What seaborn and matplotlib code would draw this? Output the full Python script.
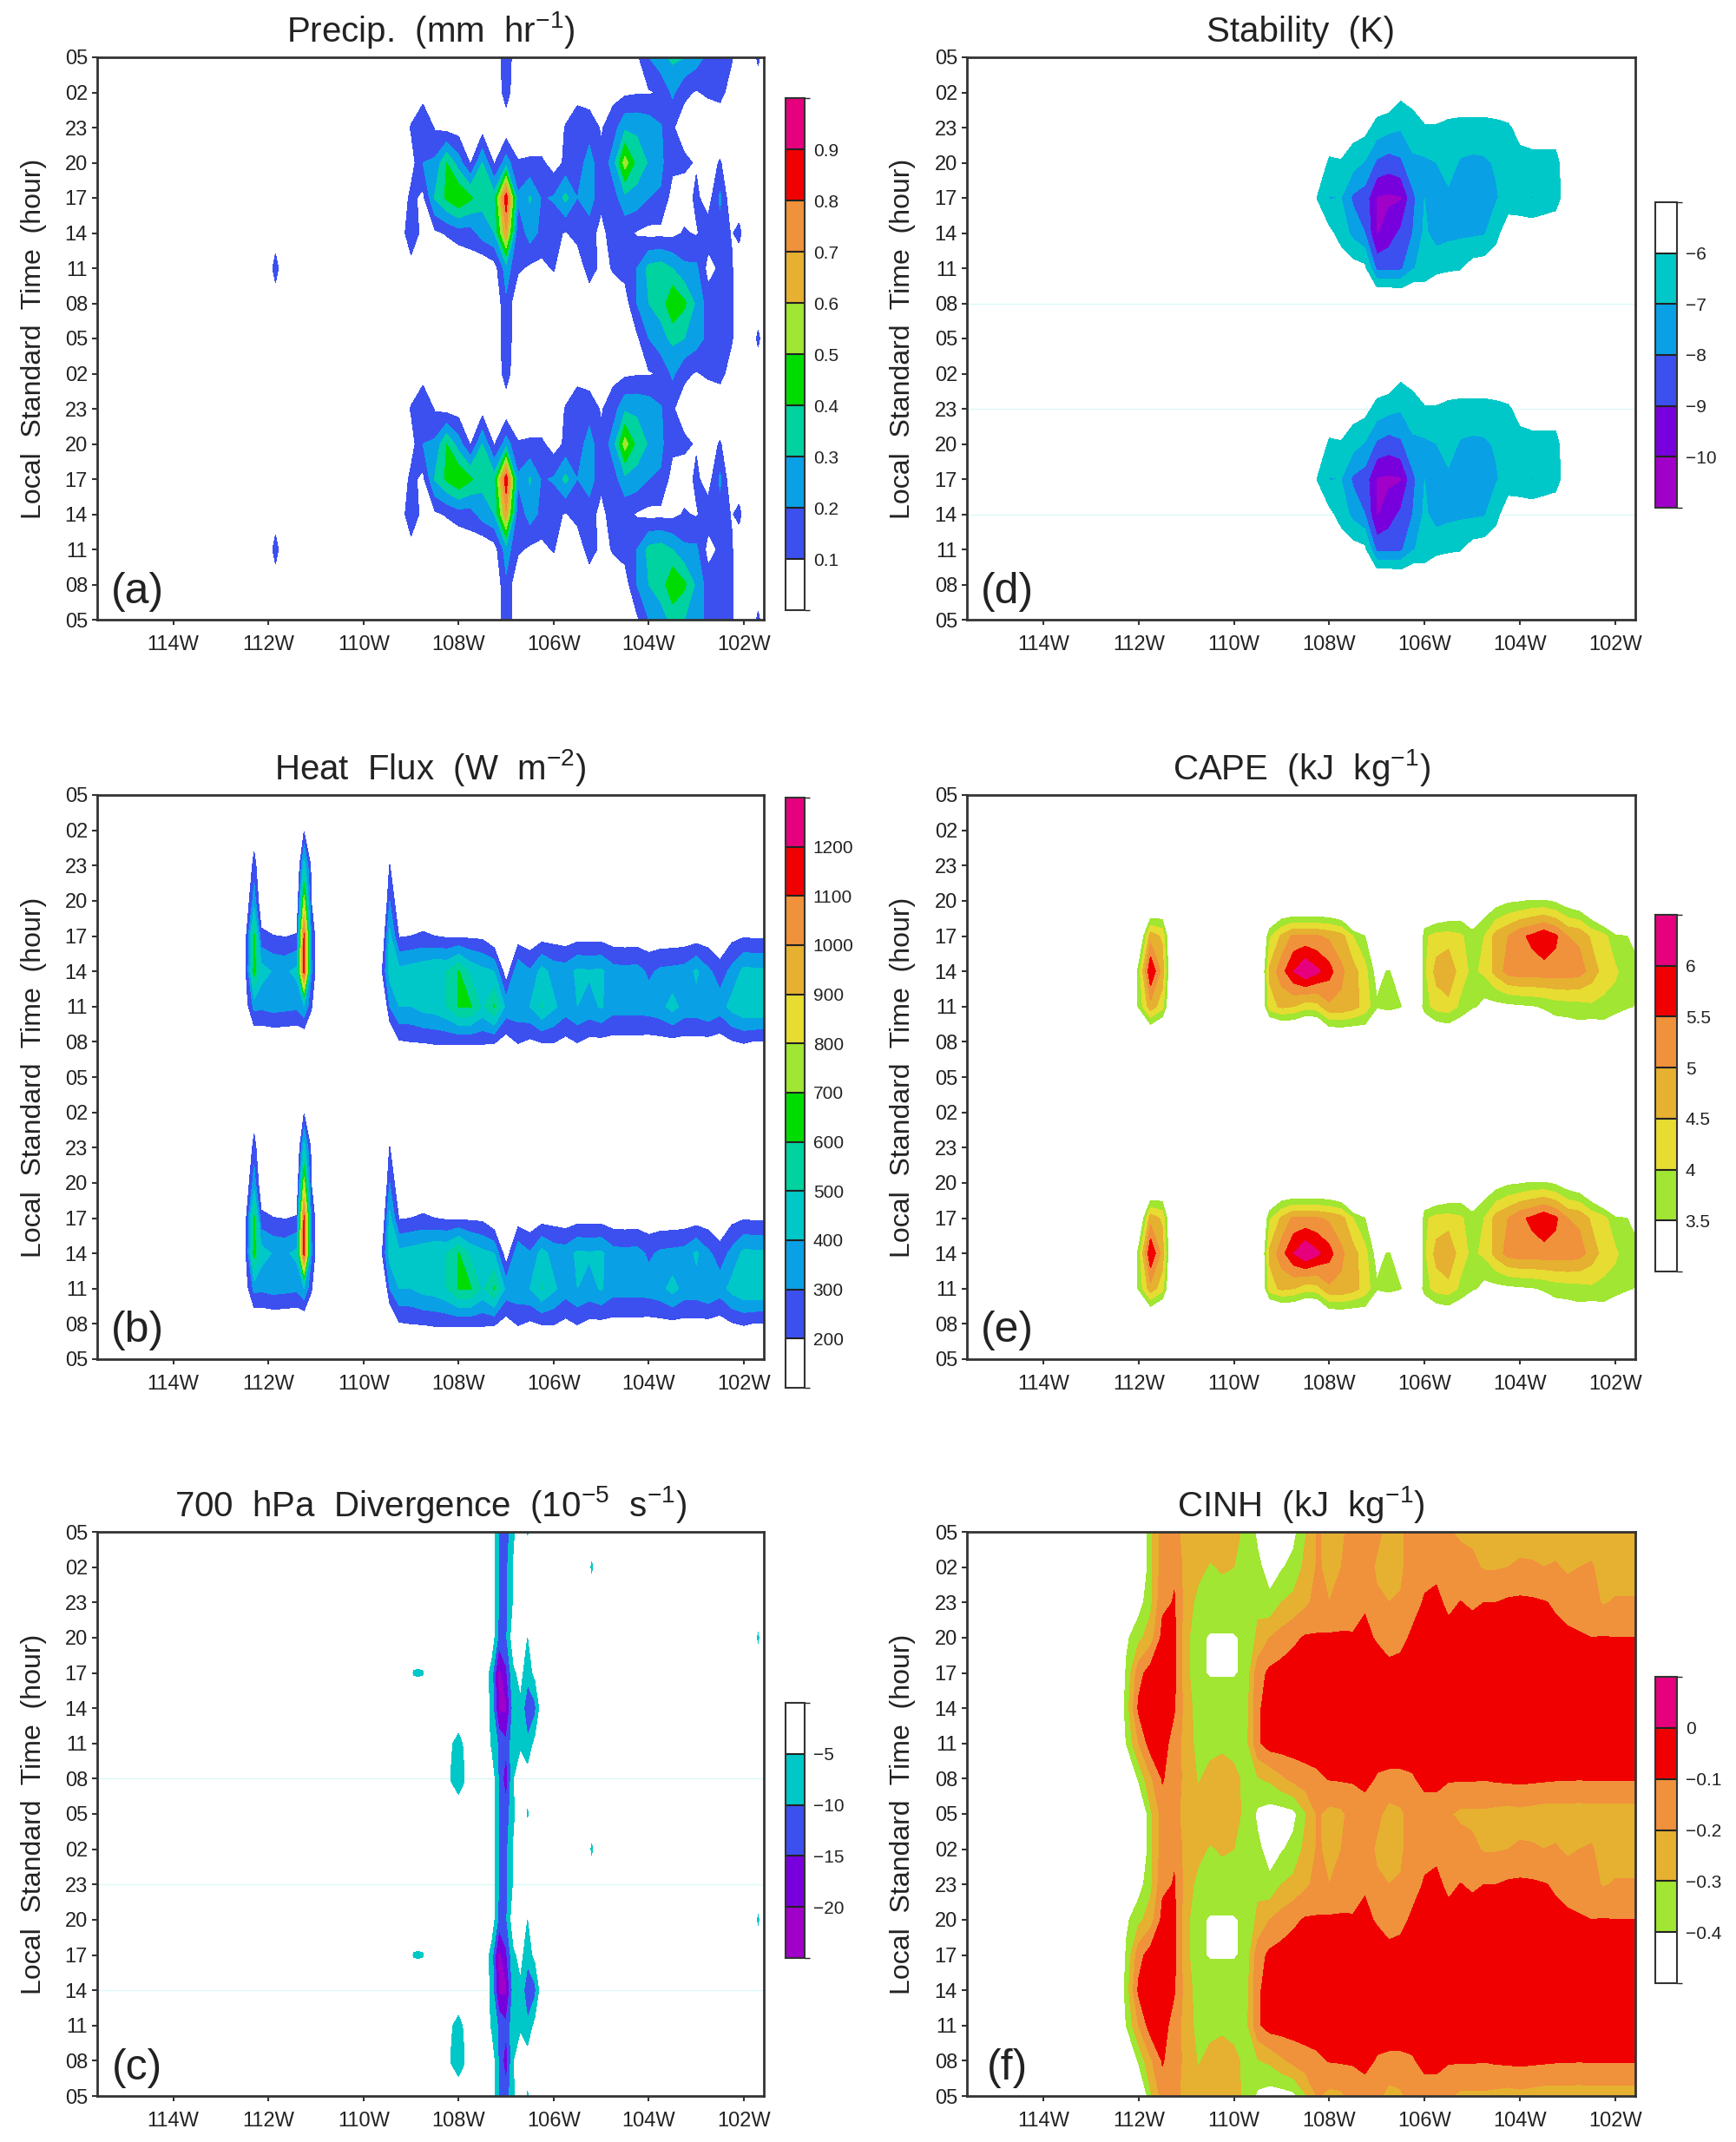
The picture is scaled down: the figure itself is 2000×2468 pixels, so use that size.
"""
Six panels of longitude-time contours, two repeated days (05 LST to 05 LST)
"""

import numpy as np
import matplotlib
matplotlib.use('Agg')
import matplotlib.pyplot as plt
from matplotlib.cm import ScalarMappable
from matplotlib.colors import BoundaryNorm, ListedColormap
import seaborn as sns

sns.set_theme(style='ticks')
plt.rcParams['font.family'] = ['Liberation Sans', 'DejaVu Sans']
plt.rcParams['mathtext.default'] = 'regular'

FIG_W, FIG_H = 2000, 2468

# x axis and y axis
LON_TICKS = [-114, -112, -110, -108, -106, -104, -102]
LON_LABELS = ['114W', '112W', '110W', '108W', '106W', '104W', '102W']
HOUR_TICKS = list(range(0, 49, 3))
HOUR_LABELS = ['05', '08', '11', '14', '17', '20', '23', '02',
               '05', '08', '11', '14', '17', '20', '23', '02', '05']

BLUE = '#3c50f0'
AZURE = '#0aa0e6'
TEAL = '#00c8c8'
SEA = '#00d2a0'
GREEN = '#00dc00'
LIME = '#a0e632'
YELLOW = '#e6dc32'
GOLD = '#e6b030'
ORANGE = '#f0913c'
RED = '#f00000'
MAGENTA = '#e6007d'
PURPLE = '#7800dc'
VIOLET = '#a000c8'

# every row below: one longitude, values at 05 08 11 14 17 20 23 02 LST
PRECIP_LON = [-112.0, -111.85, -111.7, -109.25, -109.0, -108.75, -108.5, -108.25, -108.0,
              -107.75, -107.5, -107.25, -107.0, -106.75, -106.5, -106.25, -106.0, -105.75,
              -105.5, -105.25, -105.0, -104.75, -104.5, -104.25, -104.0, -103.75, -103.5,
              -103.25, -103.0, -102.75, -102.5, -102.25, -102.1, -101.95, -101.85, -101.7, -101.55]
PRECIP = [
    [0, 0, 0, 0, 0, 0, 0, 0],
    [0, 0, .17, 0, 0, 0, 0, 0],
    [0, 0, 0, 0, 0, 0, 0, 0],
    [0, 0, 0, 0, 0, 0, 0, 0],
    [0, 0, .04, .2, .13, .05, .11, 0],
    [0, 0, 0, .05, .07, .2, .2, .05],
    [0, 0, 0, .08, .31, .22, .09, 0],
    [0, 0, 0, .11, .42, .4, .06, 0],
    [0, 0, 0, .15, .5, .25, .05, 0],
    [0, 0, .04, .15, .42, .09, 0, 0],
    [0, 0, 0, .25, .33, .3, .05, 0],
    [0, 0, .05, .3, .35, .09, 0, 0],
    [.18, .18, .25, .68, .88, .25, .03, .15],
    [0, 0, .12, .12, .22, .11, 0, 0],
    [0, 0, .08, .25, .31, .12, 0, 0],
    [0, 0, .07, .17, .19, .12, 0, 0],
    [0, 0, .11, .13, .21, .05, 0, 0],
    [0, 0, 0, .09, .33, .12, .11, 0],
    [0, 0, 0, .15, .2, .14, .15, .07],
    [0, 0, .17, .15, .25, .25, .15, .05],
    [0, 0, .06, .06, .13, .12, .09, 0],
    [0, .03, .11, .16, .15, .25, .15, .07],
    [0, .05, .14, .13, .27, .55, .28, .08],
    [.08, .2, .2, .09, .26, .36, .28, .09],
    [.2, .3, .33, .07, .2, .29, .26, .09],
    [.27, .33, .35, .07, .19, .22, .21, .11],
    [.32, .5, .3, .07, .05, .13, .11, .22],
    [.3, .42, .22, .11, .05, .12, .05, .12],
    [.25, .28, .22, .09, .12, .09, .05, .09],
    [.17, .15, .06, .15, .05, .05, 0, .12],
    [.15, .14, .12, .16, .22, .11, 0, .14],
    [.11, .11, .11, .09, 0, 0, 0, .04],
    [0, 0, 0, .14, 0, 0, 0, 0],
    [0, 0, 0, 0, 0, 0, 0, 0],
    [0, 0, 0, 0, 0, 0, 0, 0],
    [.13, 0, 0, 0, 0, 0, 0, 0],
    [0, 0, 0, 0, 0, 0, 0, 0],
]

HEAT_LON = [-112.6, -112.45, -112.3, -112.15, -111.9, -111.65, -111.4, -111.25, -111.1, -110.95,
            -109.7, -109.6, -109.45, -109.25, -109.0, -108.75, -108.5, -108.25, -108.0, -107.75,
            -107.5, -107.25, -107.0, -106.75, -106.5, -106.25, -106.0, -105.75, -105.5, -105.25,
            -105.0, -104.75, -104.5, -104.25, -104.0, -103.75, -103.5, -103.25, -103.0, -102.75,
            -102.5, -102.25, -102.0, -101.75, -101.5]
HEAT = [
    [0, 0, 0, 0, 0, 0, 0, 0],
    [0, 0, 170, 230, 220, 130, 50, 0],
    [0, 90, 330, 640, 620, 350, 250, 120],
    [0, 90, 320, 450, 230, 100, 60, 0],
    [0, 100, 340, 390, 205, 0, 0, 0],
    [0, 100, 330, 380, 195, 0, 0, 0],
    [0, 90, 320, 430, 210, 80, 40, 0],
    [0, 80, 400, 1150, 1130, 750, 450, 190],
    [0, 50, 220, 320, 300, 200, 180, 0],
    [0, 0, 0, 100, 100, 0, 0, 0],
    [0, 0, 0, 0, 0, 0, 0, 0],
    [0, 0, 0, 210, 100, 0, 0, 0],
    [0, 50, 300, 440, 430, 300, 205, 0],
    [0, 190, 400, 430, 190, 100, 60, 0],
    [0, 200, 400, 450, 200, 100, 0, 0],
    [0, 205, 440, 470, 215, 100, 50, 0],
    [0, 215, 450, 500, 200, 0, 0, 0],
    [0, 215, 500, 500, 185, 0, 0, 0],
    [0, 215, 610, 610, 180, 0, 0, 0],
    [0, 215, 610, 480, 180, 0, 0, 0],
    [0, 215, 480, 430, 175, 0, 0, 0],
    [0, 210, 610, 400, 100, 0, 0, 0],
    [0, 150, 370, 130, 0, 0, 0, 0],
    [0, 210, 370, 380, 140, 0, 0, 0],
    [0, 180, 400, 310, 120, 0, 0, 0],
    [0, 205, 510, 440, 150, 0, 0, 0],
    [0, 205, 420, 360, 150, 0, 0, 0],
    [0, 170, 350, 350, 135, 0, 0, 0],
    [0, 205, 400, 420, 155, 0, 0, 0],
    [0, 170, 370, 410, 155, 0, 0, 0],
    [0, 170, 410, 420, 155, 0, 0, 0],
    [0, 165, 340, 340, 135, 0, 0, 0],
    [0, 165, 340, 330, 135, 0, 0, 0],
    [0, 165, 340, 340, 135, 0, 0, 0],
    [0, 160, 350, 280, 130, 0, 0, 0],
    [0, 165, 370, 320, 130, 0, 0, 0],
    [0, 170, 440, 330, 130, 0, 0, 0],
    [0, 165, 360, 340, 135, 0, 0, 0],
    [0, 165, 360, 420, 140, 0, 0, 0],
    [0, 165, 400, 320, 140, 0, 0, 0],
    [0, 150, 350, 250, 100, 0, 0, 0],
    [0, 190, 440, 330, 170, 0, 0, 0],
    [0, 210, 490, 430, 190, 0, 0, 0],
    [0, 190, 500, 420, 180, 0, 0, 0],
    [0, 190, 500, 420, 180, 0, 0, 0],
]

DIV_LON = [-109.05, -108.95, -108.85, -108.75, -108.65, -108.25, -108.15, -108.0, -107.9, -107.8,
           -107.45, -107.3, -107.15, -107.0, -106.85, -106.7, -106.55, -106.4, -106.25,
           -105.3, -105.2, -105.1, -101.78, -101.7, -101.62]
DIVERGENCE = [
    [0, 0, 0, 0, 0, 0, 0, 0],
    [0, 0, 0, 0, -5.3, 0, 0, 0],
    [0, 0, 0, 0, -5.6, 0, 0, 0],
    [0, 0, 0, 0, -5.3, 0, 0, 0],
    [0, 0, 0, 0, 0, 0, 0, 0],
    [0, 0, 0, 0, 0, 0, 0, 0],
    [0, -5.5, -4.5, 0, 0, 0, 0, 0],
    [0, -9, -7, 0, 0, 0, 0, 0],
    [0, -6, -4.5, 0, 0, 0, 0, 0],
    [0, 0, 0, 0, 0, 0, 0, 0],
    [0, 0, 0, 0, 0, 0, 0, 0],
    [0, 0, -6, -7, -8, 0, 0, 0],
    [-10.5, -11, -11, -21, -22, -12, -10.5, -10.5],
    [-13, -18, -14, -21, -16, -11, -11.5, -11.5],
    [-6, -5, -7, -8, -6, 0, -4, -4],
    [0, 0, -6, -6, -3, 0, 0, 0],
    [-5.5, -2, -9, -14, -8, -5, 0, 0],
    [0, 0, -3, -12, -3, 0, 0, 0],
    [0, 0, 0, 0, 0, 0, 0, 0],
    [0, 0, 0, 0, 0, 0, 0, 0],
    [0, 0, 0, 0, 0, 0, 0, -6],
    [0, 0, 0, 0, 0, 0, 0, 0],
    [0, 0, 0, 0, 0, 0, 0, 0],
    [0, 0, 0, 0, 0, -6, 0, 0],
    [0, 0, 0, 0, 0, 0, 0, 0],
]

STAB_LON = [-108.5, -108.25, -108.0, -107.75, -107.5, -107.25, -107.0, -106.75, -106.5, -106.25,
            -106.0, -105.75, -105.5, -105.25, -105.0, -104.75, -104.5, -104.25, -104.0, -103.75,
            -103.5, -103.25, -103.0, -102.75]
STABILITY = [
    [-5, -5, -5, -5, -5, -5, -5, -5],
    [-5, -5, -5, -5, -6.05, -5, -5, -5],
    [-5, -5, -5, -5.7, -7.05, -6.2, -5, -5],
    [-5, -5, -5.3, -6.4, -7.0, -6.1, -5, -5],
    [-5, -5, -5.5, -7.3, -8.2, -6.6, -5.5, -5],
    [-5, -5, -5.7, -8.0, -8.5, -7.1, -5.6, -5],
    [-4, -4, -8.3, -10.1, -10.1, -8.2, -6.4, -5],
    [-4, -4, -8.3, -9.5, -10.2, -8.5, -6.7, -5],
    [-4, -4.3, -8.2, -8.8, -10.1, -8.2, -6.9, -5.7],
    [-4, -4.3, -7.1, -8.0, -8.3, -7.2, -6.5, -5.5],
    [-4.5, -5, -6.6, -6.8, -7.0, -7.2, -6.1, -5],
    [-5, -5, -6.2, -7.5, -7.5, -7.0, -6.1, -5],
    [-5, -5, -6.1, -7.3, -7.2, -6.6, -6.3, -5],
    [-5, -5, -6.05, -7.2, -7.3, -7.1, -6.4, -5],
    [-5, -5, -5.5, -7.2, -7.5, -7.2, -6.4, -5],
    [-5, -5, -5.4, -7.1, -7.4, -7.15, -6.4, -5],
    [-5, -5, -5.3, -6.3, -7.1, -6.9, -6.3, -5],
    [-5, -5, -5, -5.3, -6.6, -6.6, -6.15, -5],
    [-5, -5, -5, -5.3, -6.7, -6.4, -5.6, -5],
    [-5, -5, -5, -5.2, -7.05, -6.3, -5.5, -5],
    [-5, -5, -5, -5.2, -6.7, -6.3, -5.5, -5],
    [-5, -5, -5, -5.3, -6.4, -6.3, -5.5, -5],
    [-5, -5, -5, -5, -5.4, -5.3, -5, -5],
    [-5, -5, -5, -5, -5, -5, -5, -5],
]

CAPE_LON = [-112.25, -112.0, -111.75, -111.5, -111.25, -109.5, -109.25, -109.0, -108.75, -108.5,
            -108.25, -108.0, -107.75, -107.5, -107.25, -107.0, -106.75, -106.5, -106.25, -106.0,
            -105.75, -105.5, -105.25, -105.0, -104.75, -104.5, -104.25, -104.0, -103.75, -103.5,
            -103.25, -103.0, -102.75, -102.5, -102.25, -102.0, -101.75, -101.5]
CAPE = [
    [0, 0, 2, 2, 0, 0, 0, 0],
    [0, 0, 3.6, 3.7, 2.5, 0, 0, 0],
    [0, 2.2, 4.8, 6.0, 4.8, 2.2, 0, 0],
    [0, 1.8, 4.2, 4.8, 4.4, 2.5, 0, 0],
    [0, 0, 2, 2, 2, 0, 0, 0],
    [0, 0, 2, 2, 2, 0, 0, 0],
    [0, 1.5, 4.3, 4.6, 3.9, 2, 0, 0],
    [0, 1.8, 4.6, 5.3, 4.6, 2.3, 0, 0],
    [0, 1.8, 4.5, 6.0, 5.1, 2.2, 0, 0],
    [0, 1.5, 4.2, 6.5, 5.1, 2.2, 0, 0],
    [0, 1.5, 4.3, 6.1, 5.05, 2.2, 0, 0],
    [0, 2.4, 4.9, 5.7, 4.9, 2.2, 0, 0],
    [0, 2.5, 4.9, 5.1, 4.7, 2.0, 0, 0],
    [0, 2.5, 4.7, 4.7, 4.0, 0.5, 0, 0],
    [0, 2.7, 4.3, 4.2, 3.5, 1, 0, 0],
    [0, 1, 3.6, 3.2, 3, 0, 0, 0],
    [0, 0, 3.9, 3.6, 0, 0, 0, 0],
    [0, 0, 3.55, 2.5, 0, 0, 0, 0],
    [0, 0, 2, 0, 0, 0, 0, 0],
    [0, 2, 3.8, 3.9, 3.9, 2, 0, 0],
    [0, 2.5, 4.2, 4.7, 4.2, 2.2, 0, 0],
    [0, 2.6, 4.3, 5.0, 4.2, 2.5, 0, 0],
    [0, 2.5, 3.9, 4.2, 4.1, 2.7, 0, 0],
    [0, 1.5, 3.6, 3.9, 3.7, 2.5, 0, 0],
    [0, 1.5, 3.3, 4.1, 4.0, 3.0, 0, 0],
    [0, 1.8, 3.3, 4.7, 4.7, 3.2, 0, 0],
    [0, 2, 3.35, 5.2, 5.0, 3.4, 0, 0],
    [0, 2.3, 3.4, 5.3, 5.4, 3.45, 0, 0],
    [0, 2.5, 3.45, 5.3, 5.6, 3.55, 0, 0],
    [0, 2.8, 3.55, 5.3, 5.9, 3.55, 0, 0],
    [0, 2.9, 3.7, 5.3, 5.6, 3.4, 0, 0],
    [0, 2.9, 3.75, 5.3, 5.0, 3.1, 0, 0],
    [0, 3, 3.8, 5.2, 4.9, 2.9, 0, 0],
    [0, 2.7, 3.9, 4.8, 4.4, 2.4, 0, 0],
    [0, 2.9, 3.85, 4.3, 4.2, 1.5, 0, 0],
    [0, 2.5, 3.75, 4.1, 3.6, 0.5, 0, 0],
    [0, 1.8, 3.6, 3.7, 3.5, 0, 0, 0],
    [0, 1, 3.4, 3.6, 3.2, 0, 0, 0],
]

CINH_LON = [-112.5, -112.25, -112.0, -111.75, -111.5, -111.25, -111.0, -110.75, -110.5, -110.25,
            -110.0, -109.75, -109.5, -109.25, -109.0, -108.75, -108.5, -108.25, -108.0, -107.75,
            -107.5, -107.25, -107.0, -106.75, -106.5, -106.25, -106.0, -105.75, -105.5, -105.25,
            -105.0, -104.75, -104.5, -104.25, -104.0, -103.75, -103.5, -103.25, -103.0, -102.75,
            -102.5, -102.25, -102.0, -101.75, -101.5]
CINH = [
    [-.6, -.6, -.6, -.6, -.6, -.6, -.6, -.6],
    [-.6, -.6, -.39, -.35, -.38, -.42, -.6, -.6],
    [-.6, -.38, -.2, -.08, -.14, -.33, -.45, -.6],
    [-.32, -.22, -.05, -.05, -.05, -.25, -.33, -.33],
    [-.16, -.09, -.05, -.05, -.05, -.07, -.12, -.15],
    [-.16, -.17, -.15, -.09, -.08, -.07, -.095, -.11],
    [-.25, -.22, -.24, -.25, -.27, -.27, -.25, -.25],
    [-.25, -.31, -.34, -.35, -.38, -.38, -.33, -.27],
    [-.24, -.27, -.33, -.33, -.41, -.41, -.34, -.31],
    [-.22, -.23, -.33, -.33, -.41, -.41, -.34, -.29],
    [-.26, -.27, -.34, -.33, -.41, -.41, -.33, -.30],
    [-.33, -.33, -.34, -.35, -.38, -.38, -.33, -.33],
    [-.42, -.31, -.12, -.12, -.14, -.28, -.32, -.38],
    [-.45, -.28, -.05, -.05, -.08, -.2, -.38, -.44],
    [-.45, -.22, -.05, -.05, -.06, -.16, -.3, -.41],
    [-.43, -.17, -.05, -.05, -.05, -.12, -.27, -.37],
    [-.31, -.14, -.05, -.05, -.05, -.09, -.22, -.27],
    [-.19, -.12, -.05, -.05, -.05, -.09, -.17, -.19],
    [-.23, -.095, -.05, -.05, -.05, -.085, -.2, -.22],
    [-.22, -.09, -.05, -.05, -.05, -.085, -.17, -.2],
    [-.16, -.09, -.05, -.05, -.05, -.09, -.15, -.15],
    [-.15, -.07, -.05, -.05, -.05, -.08, -.11, -.14],
    [-.17, -.11, -.05, -.05, -.05, -.11, -.18, -.22],
    [-.24, -.12, -.05, -.05, -.07, -.14, -.2, -.23],
    [-.22, -.12, -.05, -.05, -.06, -.13, -.19, -.22],
    [-.15, -.11, -.05, -.05, -.05, -.08, -.14, -.14],
    [-.15, -.07, -.05, -.05, -.05, -.06, -.09, -.13],
    [-.15, -.07, -.05, -.05, -.05, -.06, -.08, -.12],
    [-.19, -.09, -.05, -.05, -.05, -.07, -.12, -.15],
    [-.22, -.09, -.05, -.05, -.05, -.07, -.098, -.15],
    [-.22, -.09, -.05, -.05, -.05, -.07, -.11, -.18],
    [-.22, -.095, -.05, -.05, -.05, -.06, -.1, -.21],
    [-.23, -.085, -.05, -.05, -.05, -.06, -.1, -.21],
    [-.24, -.08, -.05, -.05, -.05, -.06, -.085, -.2],
    [-.23, -.075, -.05, -.05, -.05, -.05, -.08, -.19],
    [-.24, -.08, -.05, -.05, -.05, -.06, -.085, -.19],
    [-.25, -.085, -.05, -.05, -.05, -.07, -.095, -.2],
    [-.25, -.09, -.05, -.05, -.05, -.08, -.11, -.19],
    [-.25, -.09, -.05, -.05, -.05, -.085, -.13, -.22],
    [-.25, -.095, -.05, -.05, -.05, -.09, -.15, -.2],
    [-.25, -.09, -.05, -.05, -.05, -.1, -.17, -.19],
    [-.25, -.09, -.05, -.05, -.05, -.095, -.21, -.24],
    [-.25, -.09, -.05, -.05, -.05, -.1, -.19, -.25],
    [-.25, -.09, -.05, -.05, -.05, -.1, -.19, -.25],
    [-.25, -.09, -.05, -.05, -.05, -.1, -.19, -.25],
]

# contour levels, colour of each band from low to high, colourbar labels
PRECIP_LEVELS = [.1, .2, .3, .4, .5, .6, .7, .8, .9]
PRECIP_COLORS = ['white', BLUE, AZURE, SEA, GREEN, LIME, GOLD, ORANGE, RED, MAGENTA]
PRECIP_TICKS = ['0.1', '0.2', '0.3', '0.4', '0.5', '0.6', '0.7', '0.8', '0.9']
HEAT_LEVELS = [200, 300, 400, 500, 600, 700, 800, 900, 1000, 1100, 1200]
HEAT_COLORS = ['white', BLUE, AZURE, TEAL, SEA, GREEN, LIME, YELLOW, GOLD, ORANGE, RED, MAGENTA]
HEAT_TICKS = ['200', '300', '400', '500', '600', '700', '800', '900', '1000', '1100', '1200']
DIV_LEVELS = [-20, -15, -10, -5]
DIV_COLORS = [VIOLET, PURPLE, BLUE, TEAL, 'white']
DIV_TICKS = ['\u221220', '\u221215', '\u221210', '\u22125']
STAB_LEVELS = [-10, -9, -8, -7, -6]
STAB_COLORS = [VIOLET, PURPLE, BLUE, AZURE, TEAL, 'white']
STAB_TICKS = ['\u221210', '\u22129', '\u22128', '\u22127', '\u22126']
CAPE_LEVELS = [3.5, 4, 4.5, 5, 5.5, 6]
CAPE_COLORS = ['white', LIME, YELLOW, GOLD, ORANGE, RED, MAGENTA]
CAPE_TICKS = ['3.5', '4', '4.5', '5', '5.5', '6']
CINH_LEVELS = [-.4, -.3, -.2, -.1, 0]
CINH_COLORS = ['white', LIME, GOLD, ORANGE, RED, MAGENTA]
CINH_TICKS = ['\u22120.4', '\u22120.3', '\u22120.2', '\u22120.1', '0']

# hours where a hairline shows in panels c and d
FAINT_HOURS = [9, 18, 27]


def pixel_axes(fig, left, top, right, bottom):
    return fig.add_axes([left / FIG_W, 1 - bottom / FIG_H,
                         (right - left) / FIG_W, (bottom - top) / FIG_H])


def draw_panel(fig, box, cbar_box, lons, values, levels, colors, tick_text, title, tag, faint=False):
    ax = pixel_axes(fig, *box)
    day = np.array(values, dtype=float).T
    z = np.vstack([day, day, day[:1]])
    palette = sns.color_palette(colors)
    # the white band stays see-through so the hairlines show only outside the marks
    fills = [(1, 1, 1, 0) if c == 'white' else p for c, p in zip(colors, palette)]
    ax.contourf(lons, HOUR_TICKS, z, levels=levels, colors=fills, extend='both', zorder=2)
    if faint:
        for h in FAINT_HOURS:
            ax.axhline(h, color='#dcf8f8', lw=1, zorder=1)
    ax.set_xlim(-115.6, -101.58)
    ax.set_ylim(0, 48)
    ax.set_xticks(LON_TICKS)
    ax.set_xticklabels(LON_LABELS)
    ax.set_yticks(HOUR_TICKS)
    ax.set_yticklabels(HOUR_LABELS)
    ax.tick_params(length=4, width=1.5, color='#333333', labelsize=17, labelcolor='#222222', pad=4)
    ax.tick_params(axis='x', pad=9)
    for side in ax.spines.values():
        side.set_linewidth(2)
        side.set_color('#333333')
        side.set_zorder(5)
    ax.set_title(title, fontsize=29, color='#222222', pad=13)
    ax.set_ylabel('Local  Standard  Time  (hour)', fontsize=23, color='#222222')
    ax.yaxis.set_label_coords(-0.076, 0.5)
    ax.text(0.06, 0.05, tag, transform=ax.transAxes, fontsize=36, color='#222222',
            ha='center', va='center', zorder=6)

    # colourbar with equal boxes and a blank end box
    cax = pixel_axes(fig, *cbar_box)
    edges = [levels[0] - 1] + list(levels) + [levels[-1] + 1]
    norm = BoundaryNorm(edges, len(colors))
    mappable = ScalarMappable(norm=norm, cmap=ListedColormap(palette))
    cbar = fig.colorbar(mappable, cax=cax, boundaries=edges, spacing='uniform',
                        ticks=levels, drawedges=True)
    cbar.set_ticklabels(tick_text)
    cbar.ax.tick_params(length=0, labelsize=15, labelcolor='#222222', pad=7)
    cbar.outline.set_linewidth(1.5)
    cbar.outline.set_edgecolor('#333333')
    cbar.dividers.set_linewidth(1.5)
    cbar.dividers.set_color('#222222')
    return ax


fig = plt.figure(figsize=(FIG_W / 100, FIG_H / 100), dpi=100, facecolor='white')

draw_panel(fig, (112, 66, 880, 714), (905, 113, 927, 703), PRECIP_LON, PRECIP,
           PRECIP_LEVELS, PRECIP_COLORS, PRECIP_TICKS, 'Precip.  (mm  hr$^{-1}$)', '(a)')
draw_panel(fig, (112, 916, 880, 1566), (905, 919, 927, 1599), HEAT_LON, HEAT,
           HEAT_LEVELS, HEAT_COLORS, HEAT_TICKS, 'Heat  Flux  (W  m$^{-2}$)', '(b)')
draw_panel(fig, (112, 1765, 880, 2415), (905, 1962, 927, 2256), DIV_LON, DIVERGENCE,
           DIV_LEVELS, DIV_COLORS, DIV_TICKS, '700  hPa  Divergence  (10$^{-5}$  s$^{-1}$)', '(c)',
           faint=True)
draw_panel(fig, (1114, 66, 1884, 714), (1907, 233, 1932, 585), STAB_LON, STABILITY,
           STAB_LEVELS, STAB_COLORS, STAB_TICKS, 'Stability  (K)', '(d)', faint=True)
draw_panel(fig, (1114, 916, 1884, 1566), (1907, 1054, 1932, 1465), CAPE_LON, CAPE,
           CAPE_LEVELS, CAPE_COLORS, CAPE_TICKS, 'CAPE  (kJ  kg$^{-1}$)', '(e)')
draw_panel(fig, (1114, 1765, 1884, 2415), (1907, 1932, 1932, 2285), CINH_LON, CINH,
           CINH_LEVELS, CINH_COLORS, CINH_TICKS, 'CINH  (kJ  kg$^{-1}$)', '(f)')

fig.savefig('out.png', dpi=100)
